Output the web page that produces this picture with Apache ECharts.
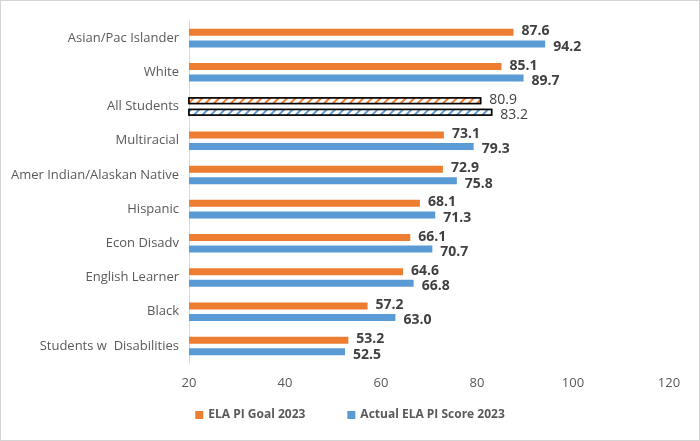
<!DOCTYPE html>
<html><head><meta charset="utf-8">
<script src="https://cdn.jsdelivr.net/npm/echarts@6/dist/echarts.min.js"></script>
<style>
html,body{margin:0;padding:0;background:#fff;}
#c{width:700px;height:441px;box-sizing:border-box;border:1px solid #d4d4d4;}
</style></head>
<body><div id="c"></div>
<script>
const categories = ["Students w  Disabilities","Black","English Learner","Econ Disadv","Hispanic","Amer Indian/Alaskan Native","Multiracial","All Students","White","Asian/Pac Islander"];
const goalValues = [53.2, 57.2, 64.6, 66.1, 68.1, 72.9, 73.1, 80.9, 85.1, 87.6];
const actualValues = [52.5, 63.0, 66.8, 70.7, 71.3, 75.8, 79.3, 83.2, 89.7, 94.2];
const seriesNames = ["ELA PI Goal 2023", "Actual ELA PI Score 2023"];
const xTicks = [20, 40, 60, 80, 100, 120];
const highlightCategory = "All Students";

const ORANGE = '#ED7D31', BLUE = '#5B9BD5';
function makeData(vals, color){
  return vals.map((v,i)=>{
    if(categories[i]===highlightCategory){
      return {value:v, itemStyle:{color:'#ffffff', borderColor:'#000', borderWidth:1.5,
        decal:{symbol:'rect', symbolSize:1, color:color, backgroundColor:'#ffffff',
          dashArrayX:[1,0], dashArrayY:[2,4], rotation:-Math.PI/4}},
        label:{fontWeight:'normal'}};
    }
    return v;
  });
}
const chart = echarts.init(document.getElementById('c'));
const lbl = {show:true, position:'right', distance:8, fontFamily:'Open Sans', fontWeight:'bold', fontSize:14, color:'#404040', formatter:p=>p.value.toFixed(1)};
chart.setOption({
  animation:false,
  grid:{left:188, right:30, top:20, bottom:77},
  legend:{bottom:14, left:'center', itemWidth:8, itemHeight:8, itemGap:42, icon:'rect',
    textStyle:{fontFamily:'Open Sans', fontSize:12, fontWeight:'bold', color:'#595959'},
    data:seriesNames},
  xAxis:{type:'value', min:xTicks[0], max:xTicks[xTicks.length-1], interval:20,
    splitLine:{show:false}, axisLine:{show:false}, axisTick:{show:false},
    axisLabel:{fontFamily:'Open Sans', fontSize:13, color:'#595959', margin:14}},
  yAxis:{type:'category', data:categories,
    axisLine:{show:true, lineStyle:{color:'#d9d9d9', width:1}}, axisTick:{show:false},
    axisLabel:{fontFamily:'Open Sans', fontSize:13, color:'#595959', margin:10}},
  series:[
    {name:seriesNames[0], type:'bar', data:makeData(goalValues, ORANGE), itemStyle:{color:ORANGE}, barWidth:7, barGap:'65%', label:Object.assign({}, lbl, {offset:[0,-1]})},
    {name:seriesNames[1], type:'bar', data:makeData(actualValues, BLUE), itemStyle:{color:BLUE}, barWidth:7, barGap:'65%', label:Object.assign({}, lbl, {offset:[0,3]})}
  ]
});
</script></body></html>
